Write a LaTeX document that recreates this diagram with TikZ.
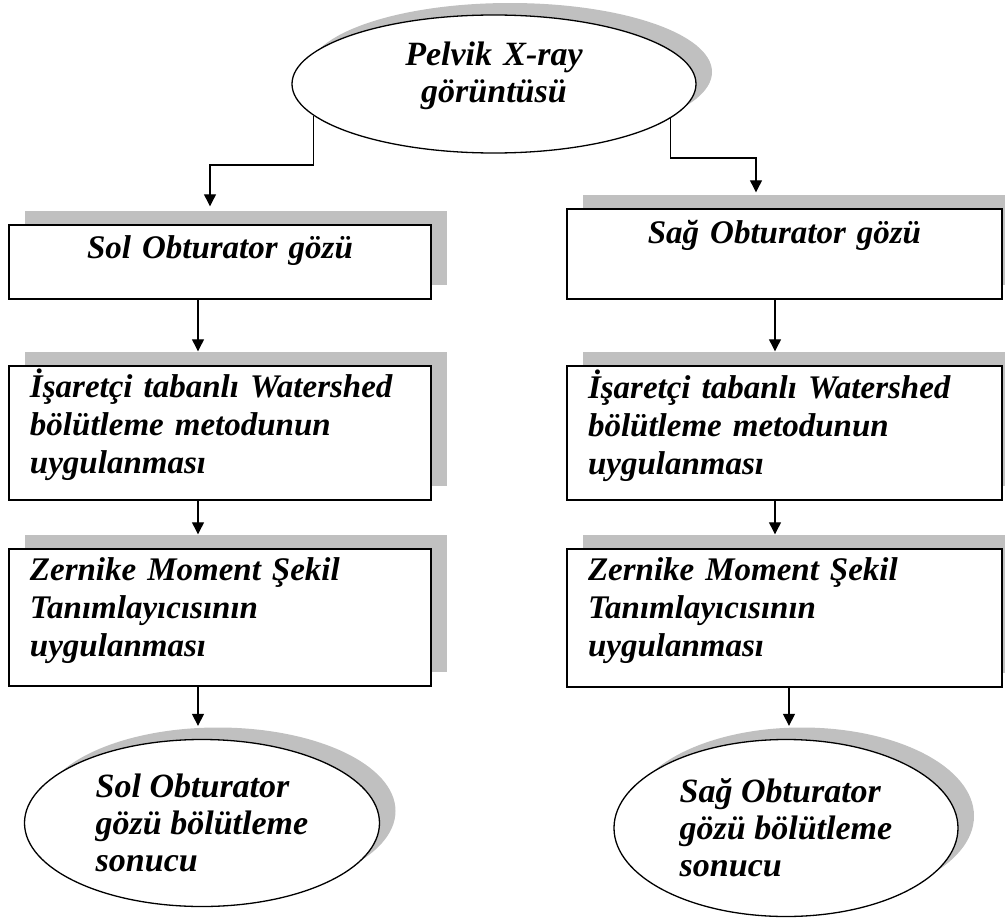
\documentclass[tikz,border=0pt]{standalone}
\usepackage{fontspec}
\setmainfont{Liberation Serif}
\usepackage{tikz}
\usetikzlibrary{shadows, shapes.geometric, arrows.meta}
\definecolor{ShadowGray}{HTML}{C0C0C0}
\definecolor{LineBlack}{HTML}{000000}
\newcommand{\widewordspace}{\spaceskip=0.36em plus 0.1em minus 0.05em\relax}
\tikzset{
  stagebox/.style={
    draw=LineBlack,
    fill=white,
    line width=1.4pt,
    inner xsep=21pt,
    inner ysep=0pt,
    align=left,
    drop shadow={shadow xshift=16pt, shadow yshift=14pt, fill=ShadowGray, opacity=1},
    font=\fontsize{33}{38}\selectfont\bfseries\itshape
  },
  widewords/.style={
    font=\fontsize{33}{38}\selectfont\bfseries\itshape\widewordspace
  },
  resultoval/.style={
    ellipse,
    draw=LineBlack,
    fill=white,
    line width=1.3pt,
    inner sep=0pt,
    align=left,
    drop shadow={shadow xshift=16pt, shadow yshift=12pt, fill=ShadowGray, opacity=1},
    font=\fontsize{34}{37}\selectfont\bfseries\itshape
  },
  flowarrow/.style={
    draw=LineBlack,
    line width=1.2pt,
    -{Triangle[width=12pt,length=12pt]}
  }
}

\begin{document}
\begin{tikzpicture}[x=1pt,y=-1pt]
\useasboundingbox (0,0) rectangle (1005,918);

\node[resultoval, align=center, text width=220pt, text height=26pt, text depth=64pt, minimum width=404pt, minimum height=138pt] (xray) at (494,84) {Pelvik X-ray\\görüntüsü};

\node[stagebox, align=center, text width=380pt, text height=33pt, text depth=41pt] (lsol) at (220,262) {Sol Obturator gözü};
\node[stagebox, align=center, text width=393pt, text height=34pt, text depth=56pt] (rsag) at (784.5,254) {Sağ Obturator gözü};

\node[stagebox, widewords, text width=380pt, text height=31pt, text depth=103pt] (lws) at (220,433) {İşaretçi tabanlı Watershed\\bölütleme metodunun\\uygulanması};
\node[stagebox, widewords, text width=393pt, text height=32pt, text depth=102pt] (rws) at (784.5,433) {İşaretçi tabanlı Watershed\\bölütleme metodunun\\uygulanması};

\node[stagebox, widewords, text width=380pt, text height=31pt, text depth=106pt] (lzm) at (220,617.5) {Zernike Moment Şekil\\Tanımlayıcısının\\uygulanması};
\node[stagebox, widewords, text width=393pt, text height=31pt, text depth=107pt] (rzm) at (784.5,618) {Zernike Moment Şekil\\Tanımlayıcısının\\uygulanması};

\node[resultoval, minimum width=355pt, minimum height=167pt] (lres) at (202,823) {Sol Obturator\\gözü bölütleme\\sonucu};
\node[resultoval, minimum width=344pt, minimum height=177pt] (rres) at (786,828) {Sağ Obturator\\gözü bölütleme\\sonucu};

\coordinate (lfork) at (210,165);
\coordinate (rfork) at (756,158);
\coordinate (lcol) at (198,0);
\coordinate (rcol) at (775,0);
\coordinate (rcolend) at (789,0);

\draw[flowarrow, shorten >=18pt] (xray.190) |- (lfork) -- (lfork |- lsol.north);
\draw[flowarrow, shorten >=16pt] (xray.349) |- (rfork) -- (rfork |- rsag.north);

\draw[flowarrow, shorten >=14pt] (lsol.south -| lcol) -- (lws.north -| lcol);
\draw[flowarrow, shorten >=14pt] (lws.south -| lcol) -- (lzm.north -| lcol);
\draw[flowarrow, shorten >=13pt] (lzm.south -| lcol) -- (lres.north -| lcol);

\draw[flowarrow, shorten >=14pt] (rsag.south -| rcol) -- (rws.north -| rcol);
\draw[flowarrow, shorten >=14pt] (rws.south -| rcol) -- (rzm.north -| rcol);
\draw[flowarrow, shorten >=13pt] (rzm.south -| rcolend) -- (rres.north -| rcolend);
\end{tikzpicture}
\end{document}
